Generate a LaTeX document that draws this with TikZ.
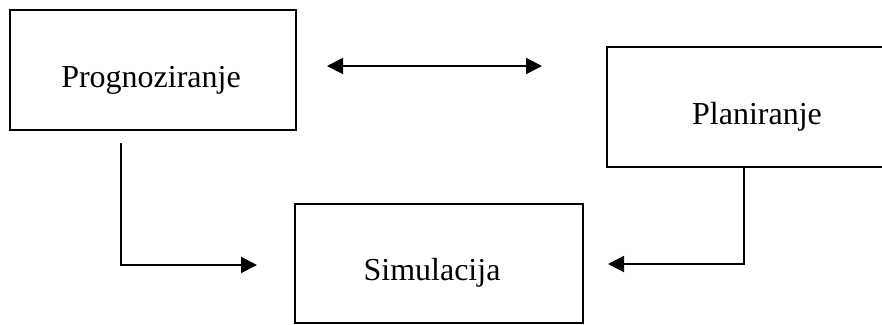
\documentclass[tikz,border=0pt]{standalone}
\usepackage{fontspec}
\setmainfont{Liberation Serif}
\usetikzlibrary{arrows.meta}
\begin{document}
\begin{tikzpicture}[x=1pt,y=-1pt,
  box/.style={draw, line width=1.6pt, inner sep=0pt},
  lbl/.style={font=\fontsize{32}{38}\selectfont, inner sep=0pt},
  tip/.style={},
  conn/.style={line width=2pt, -{Triangle[length=16pt,width=16pt]}},
  dconn/.style={line width=2pt, {Triangle[length=16pt,width=16pt]}-{Triangle[length=16pt,width=16pt]}}]
\useasboundingbox (0,0) rectangle (882,324);
\clip (0,0) rectangle (882,324);
\node[box, minimum width=286pt, minimum height=120pt] (prog) at (153,70) {};
\node[lbl] (progt) at (151,80) {Prognoziranje};
\node[box, minimum width=300pt, minimum height=120pt] (plan) at (757,107) {};
\node[lbl] (plant) at (757,117) {Planiranje};
\node[box, minimum width=288pt, minimum height=119pt] (sim) at (439,263.5) {};
\node[lbl] (simt) at (432,273) {Simulacija};
\coordinate (da1) at (327,66);
\coordinate (da2) at (542,66);
\draw[dconn] (da1) -- (da2);
\coordinate (l0) at (121,143);
\coordinate (l1) at (257,265);
\draw[conn] (l0) |- (l1);
\coordinate (r0) at (744,167);
\coordinate (r1) at (608,264);
\draw[conn] (r0) |- (r1);
\end{tikzpicture}
\end{document}
